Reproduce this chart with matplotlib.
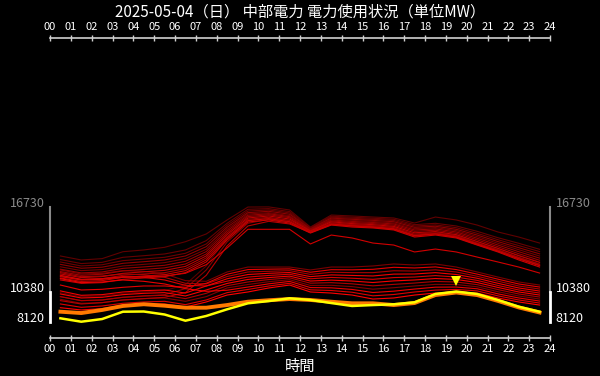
import matplotlib
matplotlib.use('Agg')
import matplotlib.pyplot as plt
from matplotlib.transforms import blended_transform_factory, ScaledTranslation

plt.rcParams['font.family'] = ['Noto Sans CJK JP', 'DejaVu Sans']

title = '2025-05-04（日） 中部電力 電力使用状況（単位MW）'
x_label = '時間'

# half-hour centres of each hourly value
hours = [0.5, 1.5, 2.5, 3.5, 4.5, 5.5, 6.5, 7.5, 8.5, 9.5, 10.5, 11.5,
         12.5, 13.5, 14.5, 15.5, 16.5, 17.5, 18.5, 19.5, 20.5, 21.5, 22.5, 23.5]
hour_ticks = [0, 1, 2, 3, 4, 5, 6, 7, 8, 9, 10, 11, 12,
              13, 14, 15, 16, 17, 18, 19, 20, 21, 22, 23, 24]
hour_labels = ['00', '01', '02', '03', '04', '05', '06', '07', '08', '09', '10', '11', '12',
               '13', '14', '15', '16', '17', '18', '19', '20', '21', '22', '23', '24']

# today (MW)
may04 = [8375, 8120, 8320, 8870, 8885, 8660, 8195, 8550, 9050, 9500, 9670, 9875,
         9750, 9520, 9300, 9370, 9425, 9575, 10200, 10380, 10200, 9750, 9245, 8870]
# yesterday
may03 = [8870, 8770, 9000, 9300, 9430, 9320, 9170, 9170, 9370, 9620, 9730, 9820,
         9750, 9620, 9500, 9500, 9370, 9520, 10120, 10310, 10120, 9680, 9190, 8810]

# previous days, oldest first
apr07 = [10300, 10000, 10050, 10250, 10350, 10450, 10900, 12300, 14400, 15700, 15900, 15700,
         14900, 15500, 15400, 15300, 15200, 14700, 14850, 14600, 14100, 13600, 13100, 12600]
apr08 = [13050, 12750, 12850, 13370, 13500, 13700, 14120, 14700, 15750, 16720, 16730, 16500,
         15220, 16120, 16050, 15970, 15900, 15520, 15970, 15750, 15370, 14850, 14470, 14020]
apr09 = [12780, 12480, 12570, 12950, 13070, 13200, 13500, 14200, 15500, 16550, 16600, 16380,
         15170, 16030, 15960, 15880, 15800, 15400, 15500, 15300, 14900, 14420, 14000, 13550]
apr10 = [12600, 12300, 12390, 12700, 12820, 12950, 13250, 13950, 15350, 16420, 16500, 16280,
         15120, 15960, 15880, 15800, 15710, 15300, 15380, 15170, 14750, 14270, 13830, 13380]
apr11 = [12240, 11950, 12030, 12300, 12420, 12550, 12850, 13550, 15050, 16200, 16300, 16080,
         15040, 15820, 15720, 15640, 15530, 15100, 15180, 14950, 14500, 14000, 13520, 13050]
apr12 = [12000, 11700, 11750, 11950, 11900, 11700, 11200, 11150, 11850, 12220, 12220, 12220,
         12000, 12220, 12220, 12300, 12450, 12370, 12450, 12220, 11850, 11470, 11100, 10870]
apr13 = [9800, 9500, 9550, 9750, 9850, 9900, 9650, 10000, 10650, 10910, 11120, 11270,
         10840, 10850, 10750, 10560, 10670, 10800, 10920, 10910, 10740, 10370, 10050, 9820]
apr14 = [10000, 9700, 9750, 9950, 10050, 10150, 10600, 12000, 14100, 15500, 15800, 15600,
         14850, 15450, 15350, 15250, 15100, 14600, 14750, 14500, 14000, 13500, 12950, 12450]
apr15 = [12420, 12130, 12210, 12500, 12620, 12750, 13050, 13750, 15200, 16300, 16400, 16180,
         15080, 15890, 15800, 15720, 15620, 15200, 15280, 15050, 14620, 14130, 13670, 13210]
apr16 = [12060, 11780, 11850, 12120, 12230, 12350, 12650, 13380, 14920, 16100, 16220, 16000,
         15000, 15750, 15640, 15560, 15450, 15000, 15080, 14850, 14380, 13870, 13370, 12890]
apr17 = [11880, 11600, 11680, 11930, 12040, 12160, 12450, 13200, 14780, 16000, 16140, 15920,
         14960, 15680, 15560, 15480, 15360, 14900, 14980, 14750, 14260, 13740, 13220, 12730]
apr18 = [11550, 11280, 11350, 11600, 11700, 11800, 12100, 12900, 14500, 15800, 15950, 15720,
         14870, 15540, 15400, 15320, 15180, 14680, 14780, 14560, 14020, 13500, 12930, 12420]
apr19 = [11800, 11500, 11550, 11700, 11650, 11450, 11000, 10950, 11510, 11850, 11900, 11950,
         11670, 11830, 11800, 11800, 11940, 11920, 12010, 11850, 11530, 11160, 10800, 10570]
apr20 = [10000, 9700, 9750, 9950, 10050, 10100, 9850, 10250, 10820, 11100, 11280, 11410,
         11010, 11050, 10960, 10810, 10920, 11020, 11140, 11100, 10900, 10530, 10200, 9970]
apr21 = [9700, 9450, 9550, 9750, 9850, 9950, 10300, 11600, 13800, 15300, 15650, 15450,
         14800, 15400, 15300, 15200, 15050, 14550, 14700, 14450, 13900, 13400, 12850, 12350]
apr22 = [11700, 11430, 11500, 11750, 11860, 11970, 12270, 13050, 14650, 15900, 16050, 15820,
         14920, 15610, 15480, 15400, 15270, 14790, 14880, 14650, 14140, 13620, 13070, 12570]
apr23 = [11400, 11140, 11200, 11450, 11550, 11650, 11950, 12750, 14380, 15700, 15850, 15620,
         14820, 15450, 15310, 15230, 15090, 14580, 14700, 14480, 13950, 13420, 12840, 12320]
apr24 = [11250, 11000, 11050, 11300, 11400, 11500, 11800, 12600, 14250, 15600, 15750, 15520,
         14770, 15370, 15220, 15150, 15000, 14470, 14620, 14400, 13870, 13350, 12750, 12220]
apr25 = [11500, 11250, 11300, 11450, 11500, 11550, 11750, 12400, 13650, 15050, 15050, 15050,
         13950, 14620, 14400, 14020, 13870, 13350, 13570, 13350, 12970, 12600, 12220, 11770]
apr26 = [11600, 11300, 11350, 11500, 11450, 11250, 10850, 10800, 11160, 11470, 11590, 11680,
         11340, 11440, 11380, 11300, 11430, 11470, 11580, 11470, 11220, 10840, 10500, 10270]
apr27 = [9450, 9200, 9300, 9500, 9600, 9650, 9400, 9750, 10300, 10540, 10800, 11000,
         10510, 10460, 10330, 10060, 10160, 10350, 10490, 10540, 10430, 10060, 9750, 9520]
apr28 = [10870, 10500, 10550, 10700, 10800, 10800, 10700, 11000, 11680, 12030, 12060, 12080,
         11830, 12020, 12010, 12050, 12200, 12150, 12230, 12030, 11690, 11310, 10950, 10720]
apr29 = [11350, 11050, 11100, 11250, 11150, 10950, 10600, 10400, 10480, 10720, 10960, 11140,
         10680, 10660, 10540, 10310, 10410, 10570, 10710, 10720, 10590, 10210, 9900, 9670]
apr30 = [10430, 10100, 10150, 10350, 10450, 10500, 10270, 10800, 11340, 11660, 11750, 11810,
         11500, 11630, 11590, 11550, 11690, 11700, 11800, 11660, 11380, 11000, 10650, 10420]
may01 = [10200, 9900, 9950, 10150, 10250, 10300, 10050, 10500, 10990, 11290, 11430, 11540,
         11170, 11240, 11170, 11060, 11180, 11250, 11360, 11290, 11060, 10690, 10350, 10120]
may02 = [9170, 9000, 9100, 9370, 9450, 9450, 9220, 9600, 10120, 10350, 10650, 10870,
         10350, 10270, 10120, 9820, 9900, 10120, 10270, 10350, 10270, 9900, 9600, 9370]

past_days = [apr07, apr08, apr09, apr10, apr11, apr12, apr13, apr14, apr15, apr16,
             apr17, apr18, apr19, apr20, apr21, apr22, apr23, apr24, apr25, apr26,
             apr27, apr28, apr29, apr30, may01, may02]

grey = '#8a8a8a'
axis_col = '#d0d0d0'

fig = plt.figure(figsize=(6, 3.76), dpi=100, facecolor='black')
ax = fig.add_axes([50 / 600, 38 / 376, 500 / 600, 300 / 376])
ax.set_facecolor('black')

n = len(past_days)
for i, day in enumerate(past_days):
    r = 0.35 + 0.65 * i / (n - 1)
    ax.plot(hours, day, color=(r, 0.0, 0.0), lw=0.8, solid_joinstyle='round')
ax.plot(hours, may03, color='#ff7a00', lw=2.8)
ax.plot(hours, may04, color='#ffff00', lw=1.8)

all_vals = [v for d in past_days + [may03, may04] for v in d]
lo, hi = min(all_vals), max(all_vals)
peak = max(may04)
peak_hour = hours[may04.index(peak)]

# marker a little above today's peak
mark_tr = ax.transData + ScaledTranslation(0, 0.105, fig.dpi_scale_trans)
ax.plot([peak_hour], [peak], marker='v', color='#ffff00', ms=6.5, mew=0, transform=mark_tr)

ax.set_xlim(0, 24)
ax.set_ylim(6898, 29398)

for s in ['left', 'right']:
    ax.spines[s].set_visible(False)
for s in ['top', 'bottom']:
    ax.spines[s].set_color(axis_col)
    ax.spines[s].set_linewidth(1.2)

ax.set_xticks(hour_ticks)
ax.set_xticklabels(hour_labels)
ax.tick_params(axis='x', top=True, bottom=True, labeltop=True, labelbottom=True,
               direction='inout', length=5, width=1, color=axis_col,
               labelcolor='white', labelsize=8, pad=1.5)

# range frame on both sides
bt = blended_transform_factory(ax.transAxes, ax.transData)
for xa in [0, 1]:
    ax.plot([xa, xa], [peak, hi], color=grey, lw=1.5, transform=bt, clip_on=False)
    ax.plot([xa, xa], [lo, peak], color='white', lw=2, transform=bt, clip_on=False)

ax.set_yticks([lo, peak, hi])
ax.set_yticklabels([str(lo), str(peak), str(hi)])
ax.tick_params(axis='y', left=True, right=True, labelleft=True, labelright=True,
               direction='out', length=2.5, width=1.5, labelsize=9, pad=1.5)
lift = ScaledTranslation(0, 3.2 / 72, fig.dpi_scale_trans)
for t, val in zip(ax.yaxis.get_major_ticks(), [lo, peak, hi]):
    c = grey if val == hi else 'white'
    t.tick1line.set_color(c)
    t.tick2line.set_color(c)
    t.label1.set_color(c)
    t.label2.set_color(c)
    t.label1.set_transform(t.label1.get_transform() + lift)
    t.label2.set_transform(t.label2.get_transform() + lift)

ax.set_xlabel(x_label, color='white', fontsize=11, labelpad=3.5)
fig.text(0.5, 1 - 12 / 376, title, ha='center', va='center', color='white', fontsize=11)

fig.savefig('out.png', dpi=100, facecolor='black')
